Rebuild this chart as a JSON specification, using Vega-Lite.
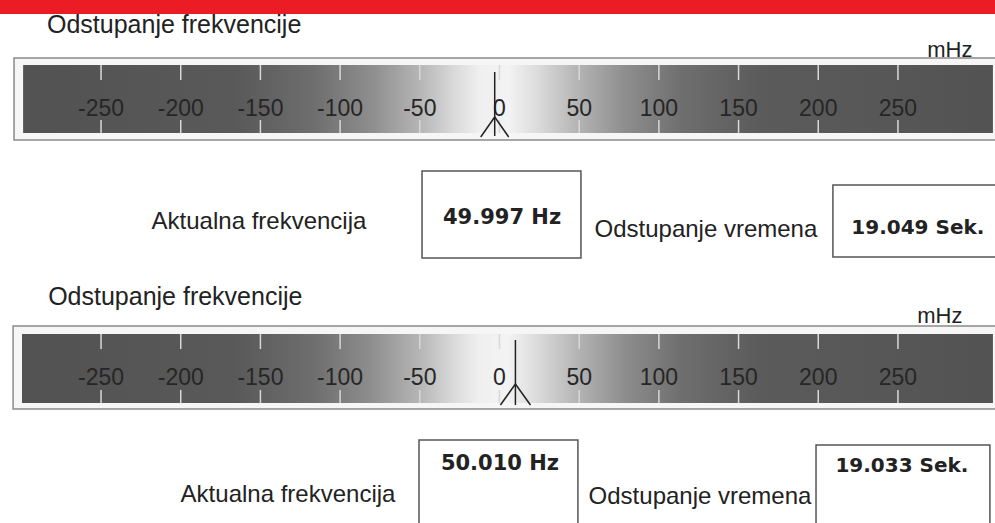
{
  "$schema": "https://vega.github.io/schema/vega-lite/v6.json",
  "width": 995,
  "height": 523,
  "autosize": {"type": "fit", "contains": "padding"},
  "padding": 0,
  "background": "white",
  "config": {"view": {"stroke": null}},
  "data": {"values": [{}]},
  "datasets": {
    "ticks": [
      {"mHz": -250, "label": "-250"},
      {"mHz": -200, "label": "-200"},
      {"mHz": -150, "label": "-150"},
      {"mHz": -100, "label": "-100"},
      {"mHz": -50, "label": "-50"},
      {"mHz": 0, "label": "0"},
      {"mHz": 50, "label": "50"},
      {"mHz": 100, "label": "100"},
      {"mHz": 150, "label": "150"},
      {"mHz": 200, "label": "200"},
      {"mHz": 250, "label": "250"}
    ],
    "gauges": [
      {"gauge": 1, "reading": -3, "freq": "49.997 Hz", "dev": "19.049 Sek."},
      {"gauge": 2, "reading": 10, "freq": "50.010 Hz", "dev": "19.033 Sek."}
    ]
  },
  "layer": [
    {
      "mark": {"type": "rect", "color": "#ec1c24", "clip": true},
      "encoding": {
        "x": {"datum": -313.4, "type": "quantitative", "scale": {"domain": [-313.4, 310.9]}, "axis": null},
        "x2": {"datum": 310.9},
        "y": {"datum": 0, "type": "quantitative", "scale": {"domain": [0, 523], "reverse": true}, "axis": null},
        "y2": {"datum": 14}
      }
    },
    {
      "mark": {"type": "rect", "fill": "#f6f6f6", "stroke": "#8a8a8a", "strokeWidth": 1.5, "clip": true},
      "encoding": {
        "x": {"datum": -304.6, "type": "quantitative", "scale": {"domain": [-313.4, 310.9]}, "axis": null},
        "x2": {"datum": 312},
        "y": {"datum": 58, "type": "quantitative", "scale": {"domain": [0, 523], "reverse": true}, "axis": null},
        "y2": {"datum": 140}
      }
    },
    {
      "mark": {"type": "rect", "color": {"gradient": "linear", "x1": 0, "x2": 1, "y1": 0, "y2": 0, "stops": [
        {"offset": 0, "color": "#525252"},
        {"offset": 0.22, "color": "#595959"},
        {"offset": 0.30, "color": "#6e6e6e"},
        {"offset": 0.36, "color": "#8e8e8e"},
        {"offset": 0.41, "color": "#b6b6b6"},
        {"offset": 0.445, "color": "#dadada"},
        {"offset": 0.47, "color": "#efefef"},
        {"offset": 0.50, "color": "#f3f3f3"},
        {"offset": 0.53, "color": "#dcdcdc"},
        {"offset": 0.57, "color": "#b6b6b6"},
        {"offset": 0.62, "color": "#8e8e8e"},
        {"offset": 0.68, "color": "#6e6e6e"},
        {"offset": 0.76, "color": "#5b5b5b"},
        {"offset": 1, "color": "#535353"}
      ]}},
      "encoding": {
        "x": {"datum": -298.9, "type": "quantitative", "scale": {"domain": [-313.4, 310.9]}, "axis": null},
        "x2": {"datum": 309.6},
        "y": {"datum": 65, "type": "quantitative", "scale": {"domain": [0, 523], "reverse": true}, "axis": null},
        "y2": {"datum": 133}
      }
    },
    {
      "data": {"name": "ticks"},
      "mark": {"type": "rule", "color": "#d8d8d8", "strokeWidth": 1.5},
      "encoding": {
        "x": {"field": "mHz", "type": "quantitative", "scale": {"domain": [-313.4, 310.9]}, "axis": null},
        "y": {"datum": 65, "type": "quantitative", "scale": {"domain": [0, 523], "reverse": true}, "axis": null},
        "y2": {"datum": 80}
      }
    },
    {
      "data": {"name": "ticks"},
      "mark": {"type": "rule", "color": "#d8d8d8", "strokeWidth": 1.5},
      "encoding": {
        "x": {"field": "mHz", "type": "quantitative", "scale": {"domain": [-313.4, 310.9]}, "axis": null},
        "y": {"datum": 120, "type": "quantitative", "scale": {"domain": [0, 523], "reverse": true}, "axis": null},
        "y2": {"datum": 133}
      }
    },
    {
      "data": {"name": "ticks"},
      "mark": {"type": "text", "font": "Liberation Sans", "fontSize": 23, "color": "#262626", "baseline": "middle"},
      "encoding": {
        "x": {"field": "mHz", "type": "quantitative", "scale": {"domain": [-313.4, 310.9]}, "axis": null},
        "y": {"datum": 109, "type": "quantitative", "scale": {"domain": [0, 523], "reverse": true}, "axis": null},
        "text": {"field": "label"}
      }
    },
    {
      "data": {"name": "gauges"},
      "transform": [{"filter": "datum.gauge == 1"}],
      "mark": {"type": "rule", "color": "#222222", "strokeWidth": 1.5},
      "encoding": {
        "x": {"field": "reading", "type": "quantitative", "scale": {"domain": [-313.4, 310.9]}, "axis": null},
        "y": {"datum": 72, "type": "quantitative", "scale": {"domain": [0, 523], "reverse": true}, "axis": null},
        "y2": {"datum": 136}
      }
    },
    {
      "data": {"name": "gauges"},
      "transform": [{"filter": "datum.gauge == 1"}],
      "mark": {"type": "rule", "color": "#222222", "strokeWidth": 1.5, "x2Offset": -14},
      "encoding": {
        "x": {"field": "reading", "type": "quantitative", "scale": {"domain": [-313.4, 310.9]}, "axis": null},
        "x2": {"field": "reading"},
        "y": {"datum": 117, "type": "quantitative", "scale": {"domain": [0, 523], "reverse": true}, "axis": null},
        "y2": {"datum": 137}
      }
    },
    {
      "data": {"name": "gauges"},
      "transform": [{"filter": "datum.gauge == 1"}],
      "mark": {"type": "rule", "color": "#222222", "strokeWidth": 1.5, "x2Offset": 14},
      "encoding": {
        "x": {"field": "reading", "type": "quantitative", "scale": {"domain": [-313.4, 310.9]}, "axis": null},
        "x2": {"field": "reading"},
        "y": {"datum": 117, "type": "quantitative", "scale": {"domain": [0, 523], "reverse": true}, "axis": null},
        "y2": {"datum": 137}
      }
    },
    {
      "mark": {"type": "text", "text": "Odstupanje frekvencije", "font": "Liberation Sans", "fontSize": 25, "color": "#222222", "align": "left", "baseline": "middle"},
      "encoding": {
        "x": {"datum": -283.9, "type": "quantitative", "scale": {"domain": [-313.4, 310.9]}, "axis": null},
        "y": {"datum": 25, "type": "quantitative", "scale": {"domain": [0, 523], "reverse": true}, "axis": null}
      }
    },
    {
      "mark": {"type": "text", "text": "mHz", "font": "Liberation Sans", "fontSize": 22, "color": "#222222", "baseline": "middle"},
      "encoding": {
        "x": {"datum": 282.6, "type": "quantitative", "scale": {"domain": [-313.4, 310.9]}, "axis": null},
        "y": {"datum": 50, "type": "quantitative", "scale": {"domain": [0, 523], "reverse": true}, "axis": null}
      }
    },
    {
      "mark": {"type": "rect", "fill": "white", "stroke": "#555555", "strokeWidth": 1.5, "clip": true},
      "encoding": {
        "x": {"datum": -48.6, "type": "quantitative", "scale": {"domain": [-313.4, 310.9]}, "axis": null},
        "x2": {"datum": 51.1},
        "y": {"datum": 171, "type": "quantitative", "scale": {"domain": [0, 523], "reverse": true}, "axis": null},
        "y2": {"datum": 258}
      }
    },
    {
      "mark": {"type": "rect", "fill": "white", "stroke": "#555555", "strokeWidth": 1.5, "clip": true},
      "encoding": {
        "x": {"datum": 209.2, "type": "quantitative", "scale": {"domain": [-313.4, 310.9]}, "axis": null},
        "x2": {"datum": 316},
        "y": {"datum": 185, "type": "quantitative", "scale": {"domain": [0, 523], "reverse": true}, "axis": null},
        "y2": {"datum": 257}
      }
    },
    {
      "data": {"name": "gauges"},
      "transform": [{"filter": "datum.gauge == 1"}],
      "mark": {"type": "text", "font": "DejaVu Sans", "fontWeight": "bold", "fontSize": 21, "color": "#222222", "baseline": "middle"},
      "encoding": {
        "x": {"datum": 1.6, "type": "quantitative", "scale": {"domain": [-313.4, 310.9]}, "axis": null},
        "y": {"datum": 218, "type": "quantitative", "scale": {"domain": [0, 523], "reverse": true}, "axis": null},
        "text": {"field": "freq"}
      }
    },
    {
      "data": {"name": "gauges"},
      "transform": [{"filter": "datum.gauge == 1"}],
      "mark": {"type": "text", "font": "DejaVu Sans", "fontWeight": "bold", "fontSize": 20, "color": "#222222", "baseline": "middle"},
      "encoding": {
        "x": {"datum": 262.5, "type": "quantitative", "scale": {"domain": [-313.4, 310.9]}, "axis": null},
        "y": {"datum": 228, "type": "quantitative", "scale": {"domain": [0, 523], "reverse": true}, "axis": null},
        "text": {"field": "dev"}
      }
    },
    {
      "mark": {"type": "text", "text": "Aktualna frekvencija", "font": "Liberation Sans", "fontSize": 24, "color": "#222222", "baseline": "middle"},
      "encoding": {
        "x": {"datum": -150.9, "type": "quantitative", "scale": {"domain": [-313.4, 310.9]}, "axis": null},
        "y": {"datum": 222, "type": "quantitative", "scale": {"domain": [0, 523], "reverse": true}, "axis": null}
      }
    },
    {
      "mark": {"type": "text", "text": "Odstupanje vremena", "font": "Liberation Sans", "fontSize": 24, "color": "#222222", "baseline": "middle"},
      "encoding": {
        "x": {"datum": 129.5, "type": "quantitative", "scale": {"domain": [-313.4, 310.9]}, "axis": null},
        "y": {"datum": 230, "type": "quantitative", "scale": {"domain": [0, 523], "reverse": true}, "axis": null}
      }
    },
    {
      "mark": {"type": "rect", "fill": "#f6f6f6", "stroke": "#8a8a8a", "strokeWidth": 1.5, "clip": true},
      "encoding": {
        "x": {"datum": -305.2, "type": "quantitative", "scale": {"domain": [-313.4, 310.9]}, "axis": null},
        "x2": {"datum": 312},
        "y": {"datum": 326, "type": "quantitative", "scale": {"domain": [0, 523], "reverse": true}, "axis": null},
        "y2": {"datum": 409}
      }
    },
    {
      "mark": {"type": "rect", "color": {"gradient": "linear", "x1": 0, "x2": 1, "y1": 0, "y2": 0, "stops": [
        {"offset": 0, "color": "#525252"},
        {"offset": 0.22, "color": "#595959"},
        {"offset": 0.30, "color": "#6e6e6e"},
        {"offset": 0.36, "color": "#8e8e8e"},
        {"offset": 0.41, "color": "#b6b6b6"},
        {"offset": 0.445, "color": "#dadada"},
        {"offset": 0.47, "color": "#efefef"},
        {"offset": 0.50, "color": "#f3f3f3"},
        {"offset": 0.53, "color": "#dcdcdc"},
        {"offset": 0.57, "color": "#b6b6b6"},
        {"offset": 0.62, "color": "#8e8e8e"},
        {"offset": 0.68, "color": "#6e6e6e"},
        {"offset": 0.76, "color": "#5b5b5b"},
        {"offset": 1, "color": "#535353"}
      ]}},
      "encoding": {
        "x": {"datum": -299.6, "type": "quantitative", "scale": {"domain": [-313.4, 310.9]}, "axis": null},
        "x2": {"datum": 309.6},
        "y": {"datum": 334, "type": "quantitative", "scale": {"domain": [0, 523], "reverse": true}, "axis": null},
        "y2": {"datum": 403}
      }
    },
    {
      "data": {"name": "ticks"},
      "mark": {"type": "rule", "color": "#d8d8d8", "strokeWidth": 1.5},
      "encoding": {
        "x": {"field": "mHz", "type": "quantitative", "scale": {"domain": [-313.4, 310.9]}, "axis": null},
        "y": {"datum": 334, "type": "quantitative", "scale": {"domain": [0, 523], "reverse": true}, "axis": null},
        "y2": {"datum": 349}
      }
    },
    {
      "data": {"name": "ticks"},
      "mark": {"type": "rule", "color": "#d8d8d8", "strokeWidth": 1.5},
      "encoding": {
        "x": {"field": "mHz", "type": "quantitative", "scale": {"domain": [-313.4, 310.9]}, "axis": null},
        "y": {"datum": 390, "type": "quantitative", "scale": {"domain": [0, 523], "reverse": true}, "axis": null},
        "y2": {"datum": 403}
      }
    },
    {
      "data": {"name": "ticks"},
      "mark": {"type": "text", "font": "Liberation Sans", "fontSize": 23, "color": "#262626", "baseline": "middle"},
      "encoding": {
        "x": {"field": "mHz", "type": "quantitative", "scale": {"domain": [-313.4, 310.9]}, "axis": null},
        "y": {"datum": 378, "type": "quantitative", "scale": {"domain": [0, 523], "reverse": true}, "axis": null},
        "text": {"field": "label"}
      }
    },
    {
      "data": {"name": "gauges"},
      "transform": [{"filter": "datum.gauge == 2"}],
      "mark": {"type": "rule", "color": "#222222", "strokeWidth": 1.5},
      "encoding": {
        "x": {"field": "reading", "type": "quantitative", "scale": {"domain": [-313.4, 310.9]}, "axis": null},
        "y": {"datum": 340, "type": "quantitative", "scale": {"domain": [0, 523], "reverse": true}, "axis": null},
        "y2": {"datum": 405}
      }
    },
    {
      "data": {"name": "gauges"},
      "transform": [{"filter": "datum.gauge == 2"}],
      "mark": {"type": "rule", "color": "#222222", "strokeWidth": 1.5, "x2Offset": -15},
      "encoding": {
        "x": {"field": "reading", "type": "quantitative", "scale": {"domain": [-313.4, 310.9]}, "axis": null},
        "x2": {"field": "reading"},
        "y": {"datum": 384, "type": "quantitative", "scale": {"domain": [0, 523], "reverse": true}, "axis": null},
        "y2": {"datum": 405}
      }
    },
    {
      "data": {"name": "gauges"},
      "transform": [{"filter": "datum.gauge == 2"}],
      "mark": {"type": "rule", "color": "#222222", "strokeWidth": 1.5, "x2Offset": 15},
      "encoding": {
        "x": {"field": "reading", "type": "quantitative", "scale": {"domain": [-313.4, 310.9]}, "axis": null},
        "x2": {"field": "reading"},
        "y": {"datum": 384, "type": "quantitative", "scale": {"domain": [0, 523], "reverse": true}, "axis": null},
        "y2": {"datum": 405}
      }
    },
    {
      "mark": {"type": "text", "text": "Odstupanje frekvencije", "font": "Liberation Sans", "fontSize": 25, "color": "#222222", "align": "left", "baseline": "middle"},
      "encoding": {
        "x": {"datum": -283.2, "type": "quantitative", "scale": {"domain": [-313.4, 310.9]}, "axis": null},
        "y": {"datum": 297, "type": "quantitative", "scale": {"domain": [0, 523], "reverse": true}, "axis": null}
      }
    },
    {
      "mark": {"type": "text", "text": "mHz", "font": "Liberation Sans", "fontSize": 22, "color": "#222222", "baseline": "middle"},
      "encoding": {
        "x": {"datum": 276.3, "type": "quantitative", "scale": {"domain": [-313.4, 310.9]}, "axis": null},
        "y": {"datum": 316, "type": "quantitative", "scale": {"domain": [0, 523], "reverse": true}, "axis": null}
      }
    },
    {
      "mark": {"type": "rect", "fill": "white", "stroke": "#555555", "strokeWidth": 1.5, "clip": true},
      "encoding": {
        "x": {"datum": -50.5, "type": "quantitative", "scale": {"domain": [-313.4, 310.9]}, "axis": null},
        "x2": {"datum": 49.2},
        "y": {"datum": 440, "type": "quantitative", "scale": {"domain": [0, 523], "reverse": true}, "axis": null},
        "y2": {"datum": 530}
      }
    },
    {
      "mark": {"type": "rect", "fill": "white", "stroke": "#555555", "strokeWidth": 1.5, "clip": true},
      "encoding": {
        "x": {"datum": 198.6, "type": "quantitative", "scale": {"domain": [-313.4, 310.9]}, "axis": null},
        "x2": {"datum": 307.7},
        "y": {"datum": 445, "type": "quantitative", "scale": {"domain": [0, 523], "reverse": true}, "axis": null},
        "y2": {"datum": 530}
      }
    },
    {
      "data": {"name": "gauges"},
      "transform": [{"filter": "datum.gauge == 2"}],
      "mark": {"type": "text", "font": "DejaVu Sans", "fontWeight": "bold", "fontSize": 21, "color": "#222222", "baseline": "middle"},
      "encoding": {
        "x": {"datum": 0.3, "type": "quantitative", "scale": {"domain": [-313.4, 310.9]}, "axis": null},
        "y": {"datum": 464, "type": "quantitative", "scale": {"domain": [0, 523], "reverse": true}, "axis": null},
        "text": {"field": "freq"}
      }
    },
    {
      "data": {"name": "gauges"},
      "transform": [{"filter": "datum.gauge == 2"}],
      "mark": {"type": "text", "font": "DejaVu Sans", "fontWeight": "bold", "fontSize": 20, "color": "#222222", "baseline": "middle"},
      "encoding": {
        "x": {"datum": 252.5, "type": "quantitative", "scale": {"domain": [-313.4, 310.9]}, "axis": null},
        "y": {"datum": 466, "type": "quantitative", "scale": {"domain": [0, 523], "reverse": true}, "axis": null},
        "text": {"field": "dev"}
      }
    },
    {
      "mark": {"type": "text", "text": "Aktualna frekvencija", "font": "Liberation Sans", "fontSize": 24, "color": "#222222", "baseline": "middle"},
      "encoding": {
        "x": {"datum": -132.7, "type": "quantitative", "scale": {"domain": [-313.4, 310.9]}, "axis": null},
        "y": {"datum": 495, "type": "quantitative", "scale": {"domain": [0, 523], "reverse": true}, "axis": null}
      }
    },
    {
      "mark": {"type": "text", "text": "Odstupanje vremena", "font": "Liberation Sans", "fontSize": 24, "color": "#222222", "baseline": "middle"},
      "encoding": {
        "x": {"datum": 125.8, "type": "quantitative", "scale": {"domain": [-313.4, 310.9]}, "axis": null},
        "y": {"datum": 497, "type": "quantitative", "scale": {"domain": [0, 523], "reverse": true}, "axis": null}
      }
    }
  ]
}
